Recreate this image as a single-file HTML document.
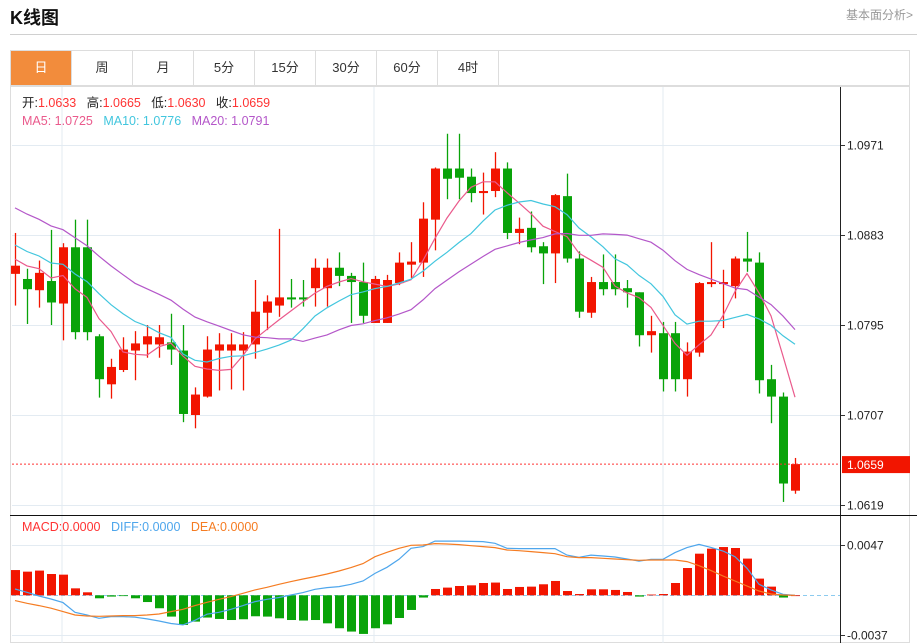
<!DOCTYPE html>
<html><head><meta charset="utf-8">
<style>
body{margin:0;background:#fff;width:917px;height:643px;overflow:hidden;font-family:"Liberation Sans","Noto Sans CJK SC",sans-serif;}
#wrap{position:relative;width:917px;height:643px;}
.title{position:absolute;left:10px;top:4px;font-size:18px;font-weight:bold;color:#111;}
.more{position:absolute;right:4px;top:6px;font-size:12px;color:#999;}
.hr{position:absolute;left:10px;right:0;top:34px;height:1px;background:#d0d0d0;}
.tabs{position:absolute;left:10px;top:50px;width:900px;height:36px;border:1px solid #ddd;box-sizing:border-box;display:flex;}
.tab{width:61px;border-right:1px solid #ddd;text-align:center;line-height:34px;font-size:13px;color:#333;box-sizing:border-box;}
.tab.on{background:#f28c3c;color:#fff;}
svg{position:absolute;left:0;top:0;}
</style></head><body>
<div id="wrap">
<div class="title">K线图</div>
<div class="more">基本面分析&gt;</div>
<div class="hr"></div>
<div class="tabs">
<div class="tab on">日</div>
<div class="tab">周</div>
<div class="tab">月</div>
<div class="tab">5分</div>
<div class="tab">15分</div>
<div class="tab">30分</div>
<div class="tab">60分</div>
<div class="tab">4时</div>
</div>
<svg id="chart" width="917" height="643"></svg>
</div>
<script>
const opens=[1.0845,1.0840,1.0829,1.0838,1.0816,1.0871,1.0871,1.0784,1.0737,1.0751,1.0770,1.0776,1.0776,1.0778,1.0770,1.0707,1.0725,1.0770,1.0770,1.0770,1.0776,1.0807,1.0814,1.0822,1.0822,1.0831,1.0831,1.0851,1.0843,1.0837,1.0797,1.0797,1.0836,1.0854,1.0856,1.0898,1.0948,1.0948,1.0940,1.0924,1.0926,1.0948,1.0885,1.0890,1.0872,1.0865,1.0921,1.0860,1.0807,1.0837,1.0837,1.0831,1.0827,1.0785,1.0787,1.0787,1.0742,1.0768,1.0835,1.0835,1.0833,1.0860,1.0856,1.0742,1.0725,1.0633];
const highs=[1.0885,1.0850,1.0858,1.0888,1.0875,1.0898,1.0898,1.0786,1.0762,1.0783,1.0789,1.0795,1.0795,1.0806,1.0795,1.0734,1.0784,1.0787,1.0787,1.0788,1.0839,1.0824,1.0889,1.0840,1.0839,1.0860,1.0860,1.0866,1.0846,1.0856,1.0843,1.0844,1.0866,1.0876,1.0915,1.0949,1.0982,1.0982,1.0948,1.0944,1.0964,1.0954,1.0900,1.0906,1.0876,1.0923,1.0943,1.0867,1.0842,1.0864,1.0864,1.0839,1.0827,1.0804,1.0798,1.0798,1.0778,1.0837,1.0876,1.0849,1.0862,1.0886,1.0866,1.0756,1.0729,1.0665];
const lows=[1.0814,1.0796,1.0812,1.0795,1.0780,1.0781,1.0780,1.0724,1.0723,1.0749,1.0741,1.0763,1.0763,1.0756,1.0700,1.0694,1.0724,1.0731,1.0732,1.0731,1.0762,1.0790,1.0803,1.0812,1.0813,1.0813,1.0813,1.0833,1.0797,1.0797,1.0797,1.0797,1.0834,1.0841,1.0842,1.0868,1.0918,1.0918,1.0915,1.0903,1.0920,1.0879,1.0874,1.0866,1.0835,1.0836,1.0856,1.0802,1.0802,1.0824,1.0824,1.0812,1.0774,1.0768,1.0730,1.0730,1.0725,1.0764,1.0832,1.0792,1.0821,1.0847,1.0728,1.0699,1.0622,1.0630];
const closes=[1.0853,1.0830,1.0846,1.0817,1.0871,1.0788,1.0788,1.0742,1.0754,1.0771,1.0777,1.0784,1.0783,1.0771,1.0708,1.0727,1.0771,1.0776,1.0776,1.0776,1.0808,1.0818,1.0822,1.0820,1.0820,1.0851,1.0851,1.0843,1.0837,1.0804,1.0840,1.0839,1.0856,1.0857,1.0899,1.0948,1.0938,1.0939,1.0924,1.0926,1.0948,1.0885,1.0889,1.0871,1.0865,1.0922,1.0860,1.0808,1.0837,1.0830,1.0830,1.0827,1.0785,1.0789,1.0742,1.0742,1.0769,1.0836,1.0837,1.0837,1.0860,1.0857,1.0741,1.0725,1.0640,1.0659];
const priorCloses=[1.0951,1.0948,1.0947,1.0945,1.0943,1.0945,1.0947,1.0945,1.0943,1.0944,1.0893,1.0890,1.0886,1.0883,1.0883,1.0863,1.0860,1.0862,1.0859];
const priceTicks=[1.0971,1.0883,1.0795,1.0707,1.0619];
const macdHist=[2.36,2.21,2.31,1.99,1.93,0.65,0.28,-0.28,-0.12,-0.07,-0.28,-0.63,-1.21,-1.99,-2.77,-2.46,-2.08,-2.21,-2.31,-2.24,-1.96,-1.99,-2.15,-2.31,-2.36,-2.31,-2.62,-3.08,-3.39,-3.61,-3.08,-2.71,-2.12,-1.37,-0.21,0.59,0.72,0.87,0.93,1.15,1.19,0.59,0.78,0.81,1.03,1.34,0.40,0.12,0.56,0.56,0.50,0.31,-0.12,0.07,0.12,1.15,2.55,3.89,4.36,4.51,4.42,3.43,1.56,0.81,-0.21,0];
const diffLine=[0.59,0.28,-0.07,-0.35,-0.68,-1.59,-1.84,-2.15,-1.99,-1.99,-2.05,-2.21,-2.40,-2.64,-2.77,-2.34,-1.77,-1.59,-1.31,-0.96,-0.59,-0.37,-0.21,0.03,0.25,0.56,0.72,0.81,1.03,1.34,2.05,2.62,3.36,4.39,4.55,5.07,5.07,5.07,5.04,5.02,4.86,4.39,4.36,4.36,4.36,4.36,3.76,3.55,3.76,3.67,3.58,3.39,3.20,3.36,3.36,3.99,4.46,4.76,4.48,4.14,3.61,2.52,1.03,0.50,0.09,0];
const deaLine=[-0.50,-0.75,-0.96,-1.21,-1.52,-1.84,-1.93,-1.96,-1.93,-1.90,-1.90,-1.84,-1.75,-1.52,-1.31,-0.96,-0.65,-0.37,-0.12,0.19,0.50,0.75,1.03,1.28,1.52,1.75,1.99,2.27,2.59,2.96,3.61,4.02,4.39,4.67,4.70,4.83,4.79,4.74,4.64,4.55,4.46,4.23,4.17,4.08,3.99,3.89,3.61,3.52,3.52,3.46,3.39,3.33,3.27,3.30,3.30,3.30,3.15,2.77,2.31,1.80,1.34,0.87,0.40,0.12,0.03,0];
const macdTicks=[4.7,-3.7]; // units of 1e-3
const lastPrice=1.0659;

const NS='http://www.w3.org/2000/svg';
const svg=document.getElementById('chart');
const RED='#f21500',GREEN='#09a309';
function xOf(i){return 15+12*i;}
function yP(p){return 145+(1.0971-p)/0.0088*90;}
function yM(v){return 595.3-v*10.7;}
function mk(tag,attrs,parent){const e=document.createElementNS(NS,tag);for(const k in attrs)e.setAttribute(k,attrs[k]);(parent||svg).appendChild(e);return e;}

// frames and grid
let e;
e=mk('rect',{x:10.5,y:86.5,width:899,height:556,fill:'none',stroke:'#ddd'});


[62,374,663].forEach(x=>{e=mk('line',{x1:x,x2:x,y1:87,y2:643,stroke:'#e3ebf2'});

});
priceTicks.forEach(p=>{const y=Math.round(yP(p))+0.5;
e=mk('line',{x1:12,x2:840,y1:y,y2:y,stroke:'#e3ebf2'});


e=mk('line',{x1:840,x2:845,y1:y,y2:y,stroke:'#333'});


e=mk('text',{x:847,y:y+4,'font-size':12,fill:'#222','font-family':'Liberation Sans, sans-serif'});e.textContent=p.toFixed(4);

});
macdTicks.forEach(v=>{const y=Math.round(yM(v))+0.5;
e=mk('line',{x1:12,x2:840,y1:y,y2:y,stroke:'#e3ebf2'});


e=mk('line',{x1:840,x2:845,y1:y,y2:y,stroke:'#333'});


e=mk('text',{x:847,y:y+4,'font-size':12,fill:'#222','font-family':'Liberation Sans, sans-serif'});e.textContent=(v/1000).toFixed(4);

});
e=mk('line',{x1:12,x2:840,y1:595.5,y2:595.5,stroke:'#8ccbef','stroke-dasharray':'4,3'});


e=mk('line',{x1:840.5,x2:840.5,y1:87,y2:643,stroke:'#222'});


e=mk('line',{x1:10,x2:917,y1:515.5,y2:515.5,stroke:'#111'});



// candles
closes.forEach((c,i)=>{const o=opens[i],x=xOf(i),up=c>=o,col=up?RED:GREEN;
e=mk('line',{x1:x+0.5,x2:x+0.5,y1:yP(highs[i]),y2:yP(lows[i]),stroke:col,'stroke-width':1.3});


const t=yP(Math.max(o,c)),b=yP(Math.min(o,c));
e=mk('rect',{x:x-4,y:t,width:9,height:Math.max(2,b-t),fill:col});

});

// moving averages
const all=priorCloses.concat(closes);
function ma(n){return closes.map((_,i)=>{const j=i+priorCloses.length;let s=0;for(let k=j-n+1;k<=j;k++)s+=all[k];return s/n;});}
[[5,'#ea5a8c','ma5-line'],[10,'#42c6de','ma10-line'],[20,'#b457c9','ma20-line']].forEach(([n,col,name])=>{
const v=ma(n);const pts=v.map((p,i)=>xOf(i)+','+yP(p).toFixed(1)).join(' ');
e=mk('polyline',{points:pts,fill:'none',stroke:col,'stroke-width':1.2});

});

// last price line & label
const ly=yP(lastPrice);
e=mk('line',{x1:12,x2:840,y1:ly,y2:ly,stroke:'#f33','stroke-dasharray':'2,2'});


e=mk('rect',{x:842,y:ly-8,width:68,height:17,fill:'#f21500'});


e=mk('text',{x:847,y:ly+5,'font-size':12,fill:'#fff','font-family':'Liberation Sans, sans-serif'});e.textContent=lastPrice.toFixed(4);



// macd
macdHist.forEach((v,i)=>{const x=xOf(i),y0=yM(0),y1=yM(v);
e=mk('rect',{x:x-4,y:Math.min(y0,y1),width:9,height:Math.max(0.8,Math.abs(y1-y0)),fill:v>=0?RED:GREEN});

});
[[diffLine,'#4ea6ec','diff-line'],[deaLine,'#f57c22','dea-line']].forEach(([arr,col,name])=>{
const pts=arr.map((v,i)=>xOf(i)+','+yM(v).toFixed(1)).join(' ');
e=mk('polyline',{points:pts,fill:'none',stroke:col,'stroke-width':1.2});

});

// legends
function legend(y,items,name){const t=mk('text',{x:22,y:y,'font-size':12.5,'font-family':'Liberation Sans, Noto Sans CJK SC, sans-serif'});


items.forEach(([s,c])=>{const ts=mk('tspan',{fill:c},t);ts.textContent=s;});}
legend(107,[['开:','#222'],['1.0633   ','#f33'],['高:','#222'],['1.0665   ','#f33'],['低:','#222'],['1.0630   ','#f33'],['收:','#222'],['1.0659','#f33']],'ohlc-legend');
legend(125,[['MA5: 1.0725   ','#ea5a8c'],['MA10: 1.0776   ','#42c6de'],['MA20: 1.0791','#b457c9']],'ma-legend');
legend(531,[['MACD:0.0000   ','#f33'],['DIFF:0.0000   ','#4ea6ec'],['DEA:0.0000','#f57c22']],'macd-legend');
document.querySelectorAll('tspan').forEach(t=>t.setAttribute('xml:space','preserve'));
document.querySelectorAll('text').forEach(t=>t.style.whiteSpace='pre');
</script>
</body></html>
